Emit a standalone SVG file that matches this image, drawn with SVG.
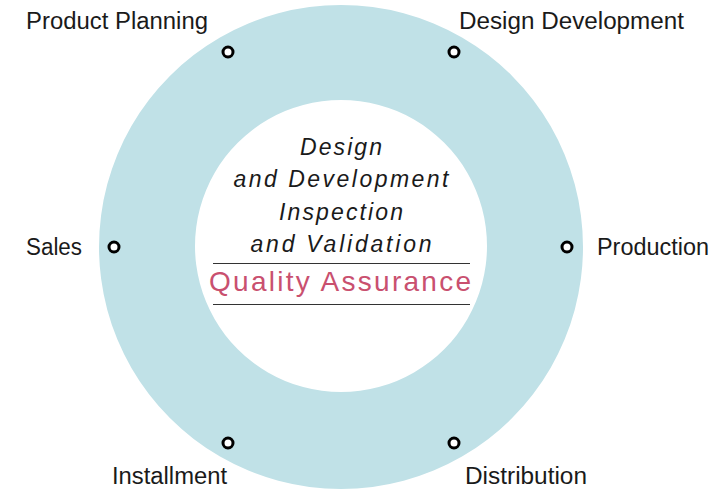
<svg xmlns="http://www.w3.org/2000/svg" width="712" height="491" viewBox="0 0 712 491">
<style>
.lbl{font-family:"Liberation Sans",Arial,sans-serif;font-size:23px;fill:#1a1a1a}
.ctr{font-family:"Liberation Sans",Arial,sans-serif;font-size:23px;font-style:italic;fill:#1a1a1a;text-anchor:middle}
.qa{font-family:"Liberation Sans",Arial,sans-serif;font-size:28px;fill:#c9506f;text-anchor:middle}
.dot{fill:#fff;stroke:#000;stroke-width:3}
.rule{stroke:#333;stroke-width:1.2}
</style>
<g id="ring">
<path d="M341,5 a242,242 0 1,0 0.001,0 Z M341,100 a146,146 0 1,1 -0.001,0 Z" fill="#c0e1e7" fill-rule="evenodd"/>
</g>
<g id="center">
<text class="ctr" x="341" y="155" textLength="82" lengthAdjust="spacing">Design</text>
<text class="ctr" x="341" y="187" textLength="215" lengthAdjust="spacing">and Development</text>
<text class="ctr" x="341" y="220" textLength="124" lengthAdjust="spacing">Inspection</text>
<text class="ctr" x="341" y="252" textLength="181" lengthAdjust="spacing">and Validation</text>
<line class="rule" x1="213" y1="263.5" x2="470" y2="263.5"/>
<text class="qa" x="340" y="291" textLength="262" lengthAdjust="spacing">Quality Assurance</text>
<line class="rule" x1="213" y1="304.5" x2="470" y2="304.5"/>
</g>
<g id="product-planning">
<circle class="dot" cx="228" cy="52" r="5"/>
<text class="lbl" x="26" y="29" textLength="182" lengthAdjust="spacingAndGlyphs">Product Planning</text>
</g>
<g id="design-development">
<circle class="dot" cx="454" cy="52" r="5"/>
<text class="lbl" x="459" y="29" textLength="225" lengthAdjust="spacingAndGlyphs">Design Development</text>
</g>
<g id="sales">
<circle class="dot" cx="114" cy="247" r="5"/>
<text class="lbl" x="26" y="255" textLength="56" lengthAdjust="spacingAndGlyphs">Sales</text>
</g>
<g id="production">
<circle class="dot" cx="567" cy="247" r="5"/>
<text class="lbl" x="597" y="255" textLength="112" lengthAdjust="spacingAndGlyphs">Production</text>
</g>
<g id="installment">
<circle class="dot" cx="228" cy="443" r="5"/>
<text class="lbl" x="112" y="484" textLength="115" lengthAdjust="spacingAndGlyphs">Installment</text>
</g>
<g id="distribution">
<circle class="dot" cx="454" cy="443" r="5"/>
<text class="lbl" x="465" y="484" textLength="122" lengthAdjust="spacingAndGlyphs">Distribution</text>
</g>
</svg>
